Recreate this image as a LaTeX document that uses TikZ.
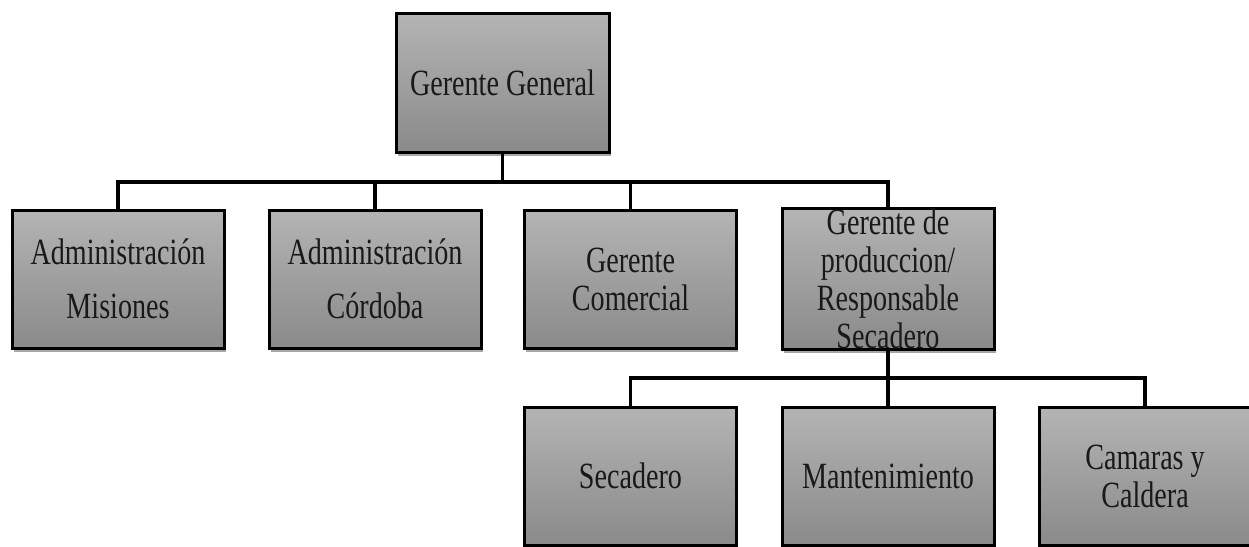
\documentclass[tikz,border=0pt]{standalone}
\usepackage{fontspec}
\setmainfont{Liberation Serif}[FakeStretch=0.76]
\usetikzlibrary{shadows}
\definecolor{topg}{RGB}{180,180,180}
\definecolor{botg}{RGB}{138,138,138}
\definecolor{txt}{RGB}{25,25,25}
\begin{document}
\begin{tikzpicture}[x=1pt,y=-1pt,
  box/.style={rectangle, draw=black, line width=3pt, minimum width=212pt, minimum height=138pt,
    inner sep=0pt, top color=topg, bottom color=botg, align=center, text=txt,
    font=\fontsize{37}{38}\selectfont,
    drop shadow={shadow xshift=1.5pt, shadow yshift=-4pt, opacity=0.35, fill=black}},
  conn/.style={draw=black, line width=3.5pt, line join=miter}]
\useasboundingbox (0,0) rectangle (1249,546);
\clip (0,0) rectangle (1249,546);
\node[box, minimum width=213pt, minimum height=139pt] (gg) at (502.5,82.5) {Gerente General};
\node[box] (a1) at (118,279) {Administración\\[16pt]Misiones};
\node[box] (a2) at (375,279) {Administración\\[16pt]Córdoba};
\node[box] (a3) at (630.5,279) {Gerente\\Comercial};
\node[box] (a4) at (888,279) {Gerente de\\produccion/\\Responsable\\Secadero};
\node[box] (b1) at (630.5,476) {Secadero};
\node[box] (b2) at (888,476) {Mantenimiento};
\node[box] (b3) at (1145,476) {Camaras y\\Caldera};
\coordinate (j1) at (502.5,182);
\coordinate (j2) at (888,378);
\draw[conn] (gg.south) -- (j1);
\draw[conn] (a1.north) -- (a1.north |- j1) -- (a4.north |- j1) -- (a4.north);
\draw[conn] (a2.north) -- (a2.north |- j1);
\draw[conn] (a3.north) -- (a3.north |- j1);
\draw[conn] (a4.south) -- (b2.north);
\draw[conn] (b1.north) -- (b1.north |- j2) -- (b3.north |- j2) -- (b3.north);
\end{tikzpicture}
\end{document}
